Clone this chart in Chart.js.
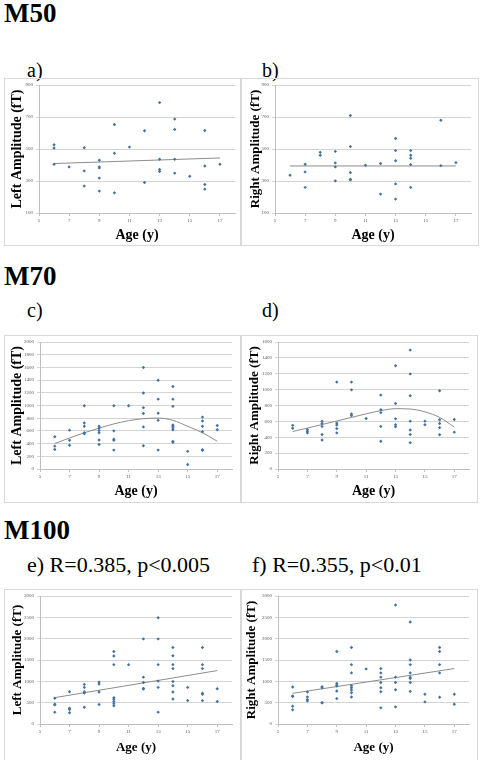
<!DOCTYPE html>
<html>
<head>
<meta charset="utf-8">
<script src="https://cdn.jsdelivr.net/npm/chart.js@4/dist/chart.umd.min.js"></script>
<style>
body{margin:0;background:#fff;width:481px;height:760px;overflow:hidden;position:relative;font-family:"Liberation Serif","Times New Roman",serif;color:#000;}
.h{position:absolute;left:4px;font-weight:bold;font-size:27px;line-height:1;}
.l{position:absolute;font-size:20px;line-height:1;white-space:nowrap;}
.l.big{font-size:22px;}
.box{position:absolute;border:1px solid #d9d9d9;}
.box canvas{display:block;}
</style>
</head>
<body>
<div class="h" style="top:0px">M50</div>
<div class="l" style="left:27px;top:60px">a)</div>
<div class="l" style="left:262px;top:60px">b)</div>
<div class="box" style="left:4px;top:78px"><canvas id="ca" width="235" height="166"></canvas></div>
<div class="box" style="left:241px;top:78px"><canvas id="cb" width="236" height="166"></canvas></div>

<div class="h" style="top:263px">M70</div>
<div class="l" style="left:27px;top:300px">c)</div>
<div class="l" style="left:262px;top:300px">d)</div>
<div class="box" style="left:4px;top:335px"><canvas id="cc" width="235" height="166"></canvas></div>
<div class="box" style="left:241px;top:335px"><canvas id="cd" width="235" height="166"></canvas></div>

<div class="h" style="top:517px">M100</div>
<div class="l big" style="left:27px;top:554px">e) R=0.385, p&lt;0.005</div>
<div class="l big" style="left:252px;top:554px">f) R=0.355, p&lt;0.01</div>
<div class="box" style="left:4px;top:589px"><canvas id="ce" width="235" height="175"></canvas></div>
<div class="box" style="left:241px;top:589px"><canvas id="cf" width="235" height="175"></canvas></div>

<script>
// tick labels
const xTicks = [5, 7, 9, 11, 13, 15, 17];
const yTicksM50 = [100, 300, 500, 700, 900];
const yTicksM70L = [0, 200, 400, 600, 800, 1000, 1200, 1400, 1600, 1800, 2000];
const yTicksM70R = [0, 200, 400, 600, 800, 1000, 1200, 1400, 1600];
const yTicksM100 = [0, 500, 1000, 1500, 2000, 2500, 3000];

// M50 left (a)
const ageA = [6,6,6, 7, 8,8,8, 9,9,9,9,9, 10,10,10, 11, 12,12, 13,13,13,13, 14,14,14,14, 15, 16,16,16,16, 17];
const leftM50 = [527,506,405, 388, 508,363,268, 430,388,382,318,237, 653,473,226, 512, 614,291, 790,436,372,359, 687,622,436,349, 330, 616,394,278,249, 405];

// M50 right (b)
const ageB = [6, 7,7,7, 8,8, 9,9,9,9, 10,10,10,10,10, 11, 12,12, 13,13,13,13,13, 14,14,14,14,14, 16,16, 17];
const rightM50 = [336, 405,357,260, 479,461, 485,413,388,301, 709,515,353,311,307, 398, 409,218, 566,490,427,282,187, 490,461,442,403,260, 680,396, 415];

// M70 left (c)
const ageC = [6,6,6, 7,7,7, 8,8,8,8,8, 9,9,9,9,9,9, 10,10,10,10,10, 11, 12,12,12,12,12,12, 13,13,13,13,13, 14,14,14,14,14,14,14,14,14, 15,15, 16,16,16,16,16,16, 17,17];
const leftM70 = [509,360,308, 612,452,375, 997,725,673,571,555, 673,643,607,571,457,386, 997,601,468,452,298, 997, 1599,1198,966,874,663,365, 1398,1100,879,766,298, 1300,1100,987,694,673,648,617,432,421, 278,72, 817,756,673,586,303,293, 684,617];

// M70 right (d)
const ageD = [6,6, 7,7,7, 8,8,8,8,8, 9,9,9,9,9, 10,10,10,10, 11, 12,12,12,12,12, 13,13,13,13,13, 14,14,14,14,14,14,14, 15,15, 16,16,16,16,16, 17,17];
const rightM70 = [550,513, 496,476,455, 603,574,537,435,365, 1095,578,554,509,455, 1095,997,693,673, 636, 931,747,710,537,349, 1301,825,632,558,533, 1498,1198,923,603,492,435,332, 603,558, 985,620,574,521,431, 624,464];

// M100 left (e)
const ageE = [6,6,6,6, 7,7,7,7, 8,8,8,8,8, 9,9,9,9, 10,10,10,10,10,10,10,10, 11, 12,12,12,12,12, 13,13,13,13,13,13, 14,14,14,14,14,14,14,14, 15,15, 16,16,16,16,16,16, 17,17];
const leftM100 = [603,464,448,278, 757,371,340,263, 928,858,757,727,394, 982,935,750,456, 1700,1592,1391,618,580,526,472,425, 1391, 1994,1098,974,835,819, 2489,1994,1391,1005,858,278, 1793,1600,1391,1299,997,897,750,587, 858,549, 1793,1391,1299,719,696,549, 827,526];

// M100 right (f)
const ageF = [6,6,6,6,6, 7,7,7,7, 8,8,8,8, 9,9,9,9,9,9, 10,10,10,10,10,10,10,10, 11, 12,12,12,12,12,12,12, 13,13,13,13,13, 14,14,14,14,14,14,14,14, 15,15, 16,16,16,16,16, 17,17];
const rightM100 = [866,657,642,417,332, 750,634,572,541, 873,850,502,495, 1700,951,912,889,773,595, 1793,1391,1198,897,850,796,734,634, 1291, 1299,1198,1098,974,850,757,379, 2790,1098,974,804,402, 2389,1500,1391,1198,1098,1067,974,765, 696,518, 1793,1700,1391,1198,626, 696,464];

// trendlines
const trendAgesLin = [6, 17];
const trendA = [409, 444];
const trendB = [394, 394];
const trendE = [618, 1252];
const trendF = [719, 1299];
const trendAgesCurve = [6, 7, 8, 9, 10, 11, 12, 13, 14, 15, 16, 17];
const trendC = [401, 488, 571, 643, 710, 761, 792, 802, 766, 673, 571, 437];
const trendD = [472, 516, 560, 605, 650, 695, 735, 760, 755, 720, 650, 529];

const serif = '"Liberation Serif", "Times New Roman", serif';

function makePanel(id, ages, values, yTicks, tAges, tVals, yTitle, L) {
  new Chart(document.getElementById(id), {
    type: 'scatter',
    data: {
      datasets: [
        {
          data: ages.map((a, i) => ({x: a, y: values[i]})),
          pointStyle: 'rectRot',
          pointRadius: 1.7,
          backgroundColor: '#42729f',
          borderWidth: 0
        },
        {
          type: 'line',
          data: tAges.map((a, i) => ({x: a, y: tVals[i]})),
          borderColor: '#8c8c8c',
          borderWidth: 1,
          pointRadius: 0,
          cubicInterpolationMode: 'monotone',
          fill: false
        }
      ]
    },
    options: {
      responsive: false,
      animation: false,
      events: [],
      layout: {padding: {left: 0, top: L.padT, right: L.padR, bottom: 0}},
      plugins: {legend: {display: false}, tooltip: {enabled: false}},
      scales: {
        x: {
          type: 'linear',
          min: 5,
          max: 18,
          afterBuildTicks: s => { s.ticks = xTicks.map(v => ({value: v})); },
          afterFit: s => { s.height = L.xH; },
          grid: {drawOnChartArea: false, tickLength: 3, color: '#bfbfbf'},
          border: {color: '#bfbfbf'},
          ticks: {autoSkip: false, maxRotation: 0, padding: 2, color: '#595959',
            font: {family: serif, size: 5}, callback: v => String(v)},
          title: {
            display: true, text: 'Age (y)', color: '#000',
            font: {family: serif, size: L.xTS, weight: 'bold', lineHeight: 1},
            padding: {top: 0, bottom: L.xTP}
          }
        },
        y: {
          type: 'linear',
          min: yTicks[0],
          max: yTicks[yTicks.length - 1],
          afterBuildTicks: s => { s.ticks = yTicks.map(v => ({value: v})); },
          afterFit: s => { s.width = L.yW; },
          grid: {color: '#d4d4d4', tickLength: 3, lineWidth: 1},
          border: {color: '#bfbfbf'},
          ticks: {autoSkip: false, padding: 3, color: '#595959',
            font: {family: serif, size: 5}, callback: v => String(v)},
          title: {
            display: true, text: yTitle, color: '#000',
            font: {family: serif, size: L.yTS, weight: 'bold', lineHeight: 1},
            padding: {top: L.yTP, bottom: 0}
          }
        }
      }
    }
  });
}

makePanel('ca', ageA, leftM50, yTicksM50, trendAgesLin, trendA, 'Left Amplitude (fT)',
  {yW: 34, xH: 32, padT: 5, padR: 5, yTS: 14, yTP: 5, xTS: 14, xTP: 3});
makePanel('cb', ageB, rightM50, yTicksM50, trendAgesLin, trendB, 'Right Amplitude (fT)',
  {yW: 33, xH: 32, padT: 5, padR: 7, yTS: 13, yTP: 7.5, xTS: 14, xTP: 3});
makePanel('cc', ageC, leftM70, yTicksM70L, trendAgesCurve, trendC, 'Left Amplitude (fT)',
  {yW: 35, xH: 33, padT: 3, padR: 8, yTS: 14, yTP: 5.5, xTS: 14, xTP: 4});
makePanel('cd', ageD, rightM70, yTicksM70R, trendAgesCurve, trendD, 'Right Amplitude (fT)',
  {yW: 36, xH: 33, padT: 3, padR: 8, yTS: 13, yTP: 6.5, xTS: 14, xTP: 4});
makePanel('ce', ageE, leftM100, yTicksM100, trendAgesLin, trendE, 'Left Amplitude (fT)',
  {yW: 35, xH: 41, padT: 4, padR: 8, yTS: 13, yTP: 6.5, xTS: 13, xTP: 10.5});
makePanel('cf', ageF, rightM100, yTicksM100, trendAgesLin, trendF, 'Right Amplitude (fT)',
  {yW: 36, xH: 41, padT: 4, padR: 8, yTS: 13, yTP: 3, xTS: 13, xTP: 10.5});
</script>
</body>
</html>
